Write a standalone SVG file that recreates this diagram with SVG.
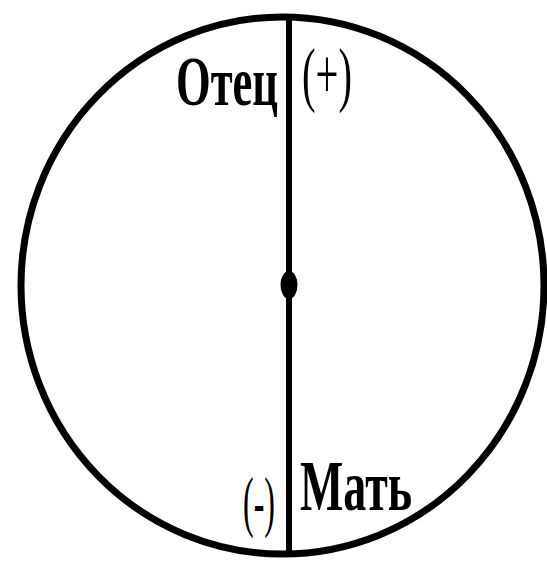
<svg xmlns="http://www.w3.org/2000/svg" width="547" height="563" viewBox="0 0 547 563">
<style>
.b{font-family:"Liberation Serif","Times New Roman",serif;font-weight:bold;fill:#000}
.r{font-family:"Liberation Serif","Times New Roman",serif;fill:#000}
.ln{stroke:#000;fill:none}
</style>
<rect width="547" height="563" fill="#fff"/>
<g id="circle"><ellipse class="ln" cx="282.5" cy="285.5" rx="261.5" ry="268.5" stroke-width="7"/></g>
<g id="connectors"><line class="ln" x1="289" y1="17" x2="289" y2="554" stroke-width="6"/></g>
<g id="center"><ellipse cx="289" cy="285" rx="8.5" ry="14" fill="#000"/></g>
<g id="father"><text class="b" transform="translate(176,105) scale(0.62,1)" font-size="70" textLength="164.5" lengthAdjust="spacingAndGlyphs">Отец</text></g>
<g id="plus"><text class="r" transform="translate(302,98) scale(0.57,1)" font-size="72" textLength="87.7" lengthAdjust="spacingAndGlyphs">(+)</text></g>
<g id="minus"><text class="r" transform="translate(243,524) scale(0.47,1)" font-size="68" textLength="68" lengthAdjust="spacingAndGlyphs">(-)</text></g>
<g id="mother"><text class="b" transform="translate(300,510) scale(0.64,1)" font-size="72" textLength="175" lengthAdjust="spacingAndGlyphs">Мать</text></g>
</svg>
